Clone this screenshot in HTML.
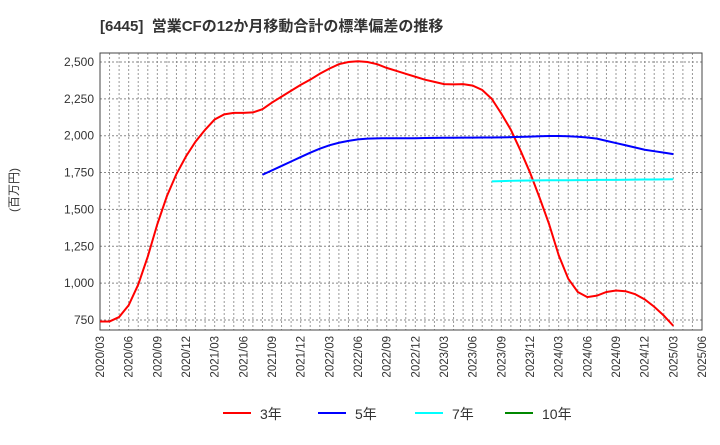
<!DOCTYPE html>
<html><head><meta charset="utf-8"><style>
body{margin:0;background:#fff;font-family:"Liberation Sans","Noto Sans CJK JP",sans-serif;}
</style></head><body>
<svg width="720" height="440" xmlns="http://www.w3.org/2000/svg" id="chart" style="font-family:'Liberation Sans','Noto Sans CJK JP',sans-serif">
<text x="100" y="31" font-size="15" font-weight="bold" fill="#333" xml:space="preserve" style="white-space:pre">[6445]  営業CFの12か月移動合計の標準偏差の推移</text>
<text transform="translate(18,190) rotate(-90)" text-anchor="middle" font-size="12" fill="#333">(百万円)</text>
<g id="grid"></g><g id="axes"></g><g id="series"></g><g id="legend"></g>
</svg>
<script>
const yTicks=[750,1000,1250,1500,1750,2000,2250,2500];
const xLabels=["2020/03","2020/06","2020/09","2020/12","2021/03","2021/06","2021/09","2021/12","2022/03","2022/06","2022/09","2022/12","2023/03","2023/06","2023/09","2023/12","2024/03","2024/06","2024/09","2024/12","2025/03","2025/06"];
const s3=[740,740,770,850,990,1180,1400,1590,1740,1860,1960,2040,2110,2145,2155,2155,2158,2180,2225,2265,2305,2345,2380,2420,2455,2485,2500,2505,2500,2485,2460,2440,2420,2400,2380,2365,2350,2348,2350,2340,2310,2250,2150,2040,1900,1750,1580,1400,1190,1030,940,905,915,940,950,945,925,890,840,780,710];
const s3Start=0;
const s5=[1735,1765,1795,1825,1855,1885,1912,1935,1952,1965,1975,1980,1982,1983,1983,1983,1983,1984,1985,1986,1986,1987,1987,1988,1988,1989,1990,1992,1994,1996,1998,1998,1996,1993,1988,1980,1965,1950,1935,1920,1905,1895,1885,1875];
const s5Start=17;
const s7=[1690,1692,1694,1695,1696,1697,1698,1698,1698,1699,1699,1700,1700,1700,1701,1702,1703,1703,1704,1705];
const s7Start=41;
const NS="http://www.w3.org/2000/svg";
const L=100,R=702,T=53,B=330,yMin=682,yMax=2561,nM=63;
const xS=i=>L+(R-L)*i/nM;
const yS=v=>B-(v-yMin)/(yMax-yMin)*(B-T);
function mk(p,t,a){const e=document.createElementNS(NS,t);for(const k in a)e.setAttribute(k,a[k]);document.getElementById(p).appendChild(e);return e;}
for(let i=1;i<nM;i++){const e=mk('grid','line',{x1:xS(i),x2:xS(i),y1:T,y2:B,stroke:'#999','stroke-dasharray':'2,2','stroke-width':1});

}
yTicks.forEach(v=>{const e=mk('grid','line',{x1:L,x2:R,y1:yS(v),y2:yS(v),stroke:'#888','stroke-dasharray':'2,2','stroke-width':1});


const t=mk('axes','text',{x:L-6,y:yS(v)+4,'text-anchor':'end','font-size':12,fill:'#333'});t.textContent=v.toLocaleString('en-US');

});
xLabels.forEach((s,i)=>{const x=xS(i*3);const t=mk('axes','text',{transform:`translate(${x+4},${B+6}) rotate(-90)`,'text-anchor':'end','font-size':11.5,fill:'#333'});t.textContent=s;

});
const fr=mk('axes','rect',{x:L,y:T,width:R-L,height:B-T,fill:'none',stroke:'#444','stroke-width':1});


function line(arr,st,col,name){const e=mk('series','polyline',{points:arr.map((v,i)=>xS(st+i)+','+yS(v)).join(' '),fill:'none',stroke:col,'stroke-width':2});

}
line(s3,s3Start,'#f00','series-3yr');
line(s5,s5Start,'#00f','series-5yr');
line(s7,s7Start,'#0ff','series-7yr');
[['3年','#f00',223],['5年','#00f',318],['7年','#0ff',415],['10年','#080',505]].forEach(([n,c,x])=>{
const l=mk('legend','line',{x1:x,x2:x+28,y1:413,y2:413,stroke:c,'stroke-width':2});


const t=mk('legend','text',{x:x+37,y:419,'font-size':14,fill:'#333'});t.textContent=n;

});
</script>
</body></html>
